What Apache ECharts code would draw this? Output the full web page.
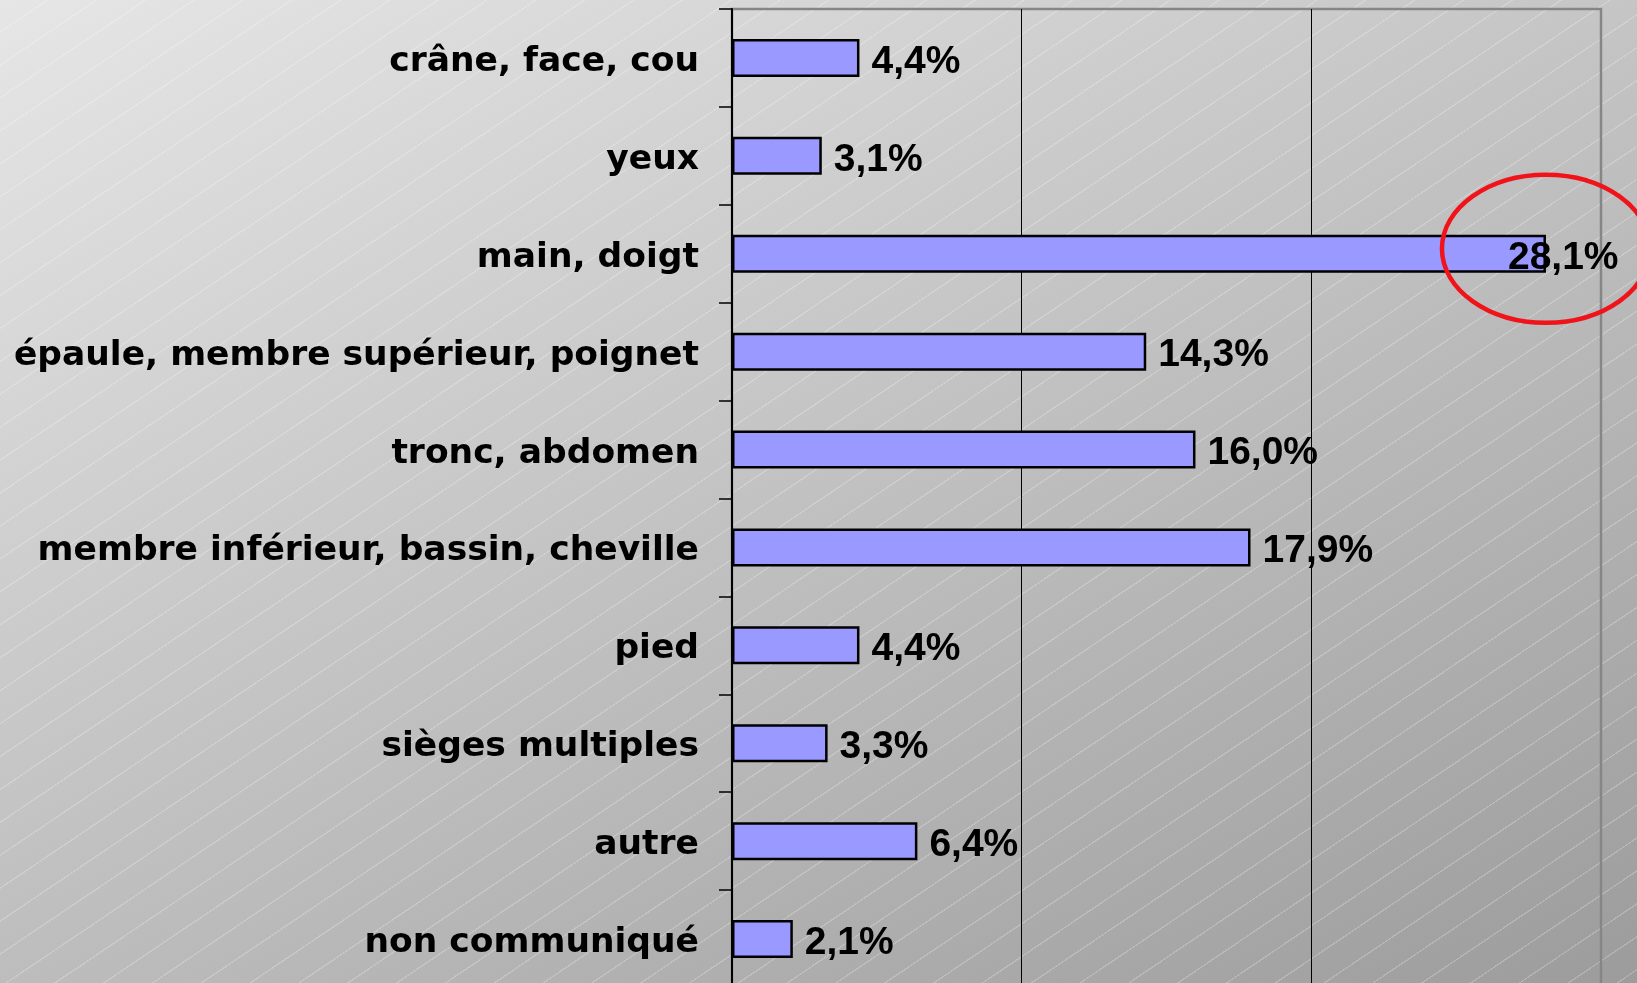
<!DOCTYPE html>
<html>
<head>
<meta charset="utf-8">
<script src="https://cdn.jsdelivr.net/npm/echarts@6/dist/echarts.min.js"></script>
<style>
html,body{margin:0;padding:0;overflow:hidden;}
#wrap{
  position:relative;
  width:1637px;height:983px;overflow:hidden;
  background:
    repeating-linear-gradient(146deg, rgba(255,255,255,0) 0px, rgba(255,255,255,0) 26px, rgba(255,255,255,0.22) 26px, rgba(255,255,255,0.22) 27.3px),
    linear-gradient(154.5deg, #e6e6e6 0%, #9c9c9c 100%);
}
#c{position:absolute;left:0;top:0;width:1637px;height:1000px;}
</style>
</head>
<body>
<div id="wrap"><div id="c"></div></div>
<script>
const categories = [
  "crâne, face, cou",
  "yeux",
  "main, doigt",
  "épaule, membre supérieur, poignet",
  "tronc, abdomen",
  "membre inférieur, bassin, cheville",
  "pied",
  "sièges multiples",
  "autre",
  "non communiqué"
];
const values = [4.4, 3.1, 28.1, 14.3, 16.0, 17.9, 4.4, 3.3, 6.4, 2.1];
const highlightCategory = "main, doigt";
const xTicks = [0, 10, 20, 30];

const fmt = v => v.toFixed(1).replace('.', ',') + '%';

const chart = echarts.init(document.getElementById('c'), null, {renderer: 'canvas'});

const seriesData = values.map((v, i) => {
  const item = {value: v};
  if (categories[i] === highlightCategory) {
    item.label = {offset: [-50, 4]};
  }
  return item;
});

chart.setOption({
  backgroundColor: 'transparent',
  animation: false,
  grid: {
    left: 732, top: 9, right: 36, bottom: 12,
    show: true, borderColor: '#868686', borderWidth: 2.5,
    backgroundColor: 'transparent'
  },
  xAxis: {
    type: 'value',
    min: xTicks[0], max: xTicks[xTicks.length - 1], interval: xTicks[1] - xTicks[0],
    axisLabel: {show: false},
    axisTick: {show: false},
    axisLine: {show: false},
    splitLine: {show: true, showMinLine: false, showMaxLine: false, lineStyle: {color: '#000', width: 1}}
  },
  yAxis: {
    type: 'category',
    data: categories,
    inverse: true,
    axisLine: {show: true, lineStyle: {color: '#000', width: 2}},
    axisTick: {show: true, length: 13, inside: false, alignWithLabel: false, lineStyle: {color: '#000', width: 1.5}},
    axisLabel: {
      margin: 33,
      formatter: v => '{a|' + v + '}',
      rich: {
        a: {
          color: '#000',
          fontFamily: 'DejaVu Sans',
          fontWeight: 'bold',
          fontSize: 34.5,
          padding: [8, 0, 0, 0]
        }
      }
    },
    splitLine: {show: false}
  },
  series: [{
    type: 'bar',
    data: seriesData,
    barWidth: 38,
    itemStyle: {color: '#9999ff', borderColor: '#000', borderWidth: 2.5},
    label: {
      show: true,
      position: 'right',
      distance: 12,
      offset: [0, 4],
      color: '#000',
      fontFamily: 'Liberation Sans',
      fontWeight: 'bold',
      fontSize: 39,
      formatter: p => fmt(p.value)
    },
    z: 3
  }]
});

const hiIdx = categories.indexOf(highlightCategory);
const pt = chart.convertToPixel({xAxisIndex: 0, yAxisIndex: 0}, [values[hiIdx], highlightCategory]);
chart.setOption({
  graphic: [{
    type: 'ellipse',
    shape: {cx: pt[0], cy: pt[1] - 5, rx: 104, ry: 74},
    style: {fill: 'none', stroke: '#f0141a', lineWidth: 4.5},
    z: 10
  }]
});
</script>
</body>
</html>
